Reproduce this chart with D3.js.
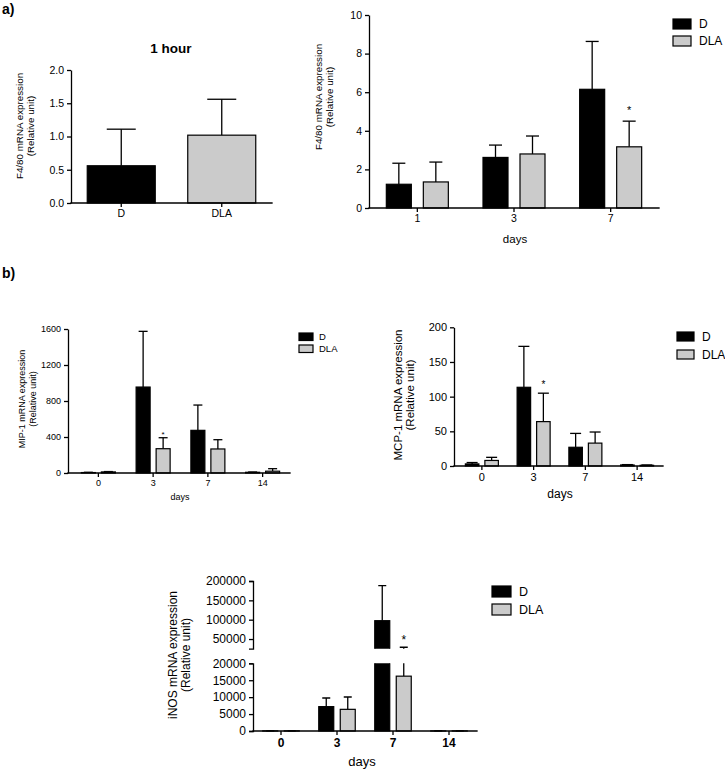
<!DOCTYPE html>
<html>
<head>
<meta charset="utf-8">
<script src="https://cdn.jsdelivr.net/npm/d3@7"></script>
<style>
body { margin: 0; background: #fff; }
</style>
</head>
<body>
<svg id="fig"></svg>
<script>
var W = 725, H = 770,
    FONT = '"Liberation Sans", Arial, sans-serif';

var seriesNames = ['D', 'DLA'];
var seriesFill = ['#000000', '#cbcbcb'];

// a) F4/80, 1 hour
var hourCats = ['D', 'DLA'];
var hourMean = [0.56, 1.02];
var hourErr = [0.55, 0.54];
var hourTicks = [0, 0.5, 1, 1.5, 2];

// a) F4/80 over days
var f480Days = ['1', '3', '7'];
var f480D = [1.23, 2.62, 6.15];
var f480DErr = [1.09, 0.64, 2.48];
var f480DLA = [1.35, 2.80, 3.17];
var f480DLAErr = [1.03, 0.93, 1.33];
var f480Sig = [0, 0, 1];
var f480Ticks = [0, 2, 4, 6, 8, 10];

// b) MIP-1
var mipDays = ['0', '3', '7', '14'];
var mipD = [5, 955, 474, 8];
var mipDErr = [3, 619, 281, 3];
var mipDLA = [12, 270, 267, 20];
var mipDLAErr = [4, 122, 103, 28];
var mipSig = [0, 1, 0, 0];
var mipTicks = [0, 400, 800, 1200, 1600];

// b) MCP-1
var mcpDays = ['0', '3', '7', '14'];
var mcpD = [3, 113.5, 27, 1.5];
var mcpDErr = [2, 59, 20, 0.5];
var mcpDLA = [8, 64, 33, 1];
var mcpDLAErr = [4.5, 41, 16, 0.5];
var mcpSig = [0, 1, 0, 0];
var mcpTicks = [0, 50, 100, 150, 200];

// b) iNOS (broken axis)
var inosDays = ['0', '3', '7', '14'];
var inosD = [30, 7200, 97400, 20];
var inosDErr = [20, 2550, 90600, 10];
var inosDLA = [40, 6400, 16200, 30];
var inosDLAErr = [20, 3640, 12500, 10];
var inosSig = [0, 0, 1, 0];
var inosLowTicks = [0, 5000, 10000, 15000, 20000];
var inosHighTicks = [50000, 100000, 150000, 200000];

var svg = d3.select('#fig')
    .attr('width', W)
    .attr('height', H)
    .attr('font-family', FONT);
var defs = svg.append('defs');

function groupRows(cats, means, errs, sig) {
    var rows = [];
    cats.forEach(function (c, i) {
        means.forEach(function (m, s) {
            rows.push({cat: c, s: s, off: s - 0.5, mean: m[i], err: errs[s][i], sig: s === 1 && sig[i]});
        });
    });
    return rows;
}

function styleAxis(sel, fs, bold) {
    sel.attr('font-size', fs).attr('font-family', FONT);
    sel.selectAll('path, line').attr('stroke', '#000').attr('stroke-width', 1.3);
    sel.selectAll('text').attr('fill', '#000').attr('font-weight', bold ? 'bold' : null);
}

function drawBars(g, rows, x, y, p) {
    var cx = function (r) { return x(r.cat) + x.bandwidth() / 2 + r.off * (p.barW + p.gap); };
    g.selectAll('line.err').data(rows).join('line')
        .attr('class', 'err')
        .attr('x1', cx).attr('x2', cx)
        .attr('y1', function (r) { return y(r.mean); })
        .attr('y2', function (r) { return y(r.mean + r.err); })
        .attr('stroke', '#000').attr('stroke-width', 1.3);
    g.selectAll('line.cap').data(rows).join('line')
        .attr('class', 'cap')
        .attr('x1', function (r) { return cx(r) - p.capW / 2; })
        .attr('x2', function (r) { return cx(r) + p.capW / 2; })
        .attr('y1', function (r) { return y(r.mean + r.err); })
        .attr('y2', function (r) { return y(r.mean + r.err); })
        .attr('stroke', '#000').attr('stroke-width', 1.3);
    g.selectAll('rect.bar').data(rows).join('rect')
        .attr('class', 'bar')
        .attr('x', function (r) { return cx(r) - p.barW / 2; })
        .attr('y', function (r) { return y(r.mean); })
        .attr('width', p.barW)
        .attr('height', function (r) { return y(0) - y(r.mean); })
        .attr('fill', function (r) { return seriesFill[r.s]; })
        .attr('stroke', '#000').attr('stroke-width', 1.2);
    return cx;
}

function drawStars(rows, cx, yOf, p) {
    svg.selectAll(null).data(rows.filter(function (r) { return r.sig; })).join('text')
        .attr('x', cx)
        .attr('y', function (r) { return yOf(r.mean + r.err) - p.starGap; })
        .attr('text-anchor', 'middle')
        .attr('font-size', p.starFont)
        .text('*');
}

function drawXAxis(x, p) {
    var ax = svg.append('g')
        .attr('transform', 'translate(0,' + p.baseY + ')')
        .call(d3.axisBottom(x).tickSize(4).tickSizeOuter(0))
        .call(styleAxis, p.tickFont, p.boldX);
    ax.select('.domain').remove();
    svg.append('line')
        .attr('x1', p.axisX).attr('x2', p.xRange[1])
        .attr('y1', p.baseY).attr('y2', p.baseY)
        .attr('stroke', '#000').attr('stroke-width', 1.3)
        .attr('stroke-linecap', 'square');
}

function drawYAxis(y, ticks, fmt, p, outer) {
    svg.append('g')
        .attr('transform', 'translate(' + p.axisX + ',0)')
        .call(d3.axisLeft(y).tickValues(ticks).tickFormat(fmt).tickSize(4).tickSizeOuter(outer || 0))
        .call(styleAxis, p.tickFont);
}

function yLabel(lines, xs, yc, fs) {
    lines.forEach(function (t, i) {
        svg.append('text')
            .attr('transform', 'translate(' + xs[i] + ',' + yc + ') rotate(-90)')
            .attr('text-anchor', 'middle')
            .attr('font-size', fs)
            .text(t);
    });
}

function xLabel(t, xc, yb, fs) {
    svg.append('text')
        .attr('x', xc).attr('y', yb)
        .attr('text-anchor', 'middle')
        .attr('font-size', fs)
        .text(t);
}

function legend(L) {
    var g = svg.append('g').attr('transform', 'translate(' + L.x + ',' + L.y + ')');
    seriesNames.forEach(function (n, i) {
        g.append('rect')
            .attr('x', 0).attr('y', i * L.step)
            .attr('width', L.w).attr('height', L.h)
            .attr('fill', seriesFill[i])
            .attr('stroke', '#000').attr('stroke-width', 1.2);
        g.append('text')
            .attr('x', L.tx).attr('y', i * L.step + L.h / 2 + L.fs * 0.36)
            .attr('font-size', L.fs)
            .text(n);
    });
}

function groupedPanel(p, cats, means, errs, sig, ticks, fmt) {
    var x = d3.scaleBand().domain(cats).range(p.xRange);
    var y = d3.scaleLinear().domain(p.yDomain).range(p.yRange);
    var rows = groupRows(cats, means, errs, sig);
    var cx = drawBars(svg.append('g'), rows, x, y, p);
    drawStars(rows, cx, y, p);
    drawXAxis(x, p);
    drawYAxis(y, ticks, fmt, p);
}

// panel labels
svg.append('text').attr('x', 2).attr('y', 14).attr('font-size', 14).attr('font-weight', 'bold').text('a)');
svg.append('text').attr('x', 2).attr('y', 278).attr('font-size', 14).attr('font-weight', 'bold').text('b)');

// ---- a) 1 hour
(function () {
    var p = {xRange: [71, 272], axisX: 71, baseY: 203, barW: 68, gap: 0, capW: 29, tickFont: 10.5};
    var x = d3.scaleBand().domain(hourCats).range(p.xRange);
    var y = d3.scaleLinear().domain([0, 2]).range([203, 70]);
    var rows = hourCats.map(function (c, i) {
        return {cat: c, s: i, off: 0, mean: hourMean[i], err: hourErr[i], sig: 0};
    });
    drawBars(svg.append('g'), rows, x, y, p);
    drawXAxis(x, p);
    drawYAxis(y, hourTicks, d3.format('.1f'), p);
    svg.append('text').attr('x', 171).attr('y', 53).attr('text-anchor', 'middle')
        .attr('font-size', 13.5).attr('font-weight', 'bold').text('1 hour');
    yLabel(['F4/80 mRNA expression', '(Relative unit)'], [22.5, 34], 126, 9.8);
})();

// ---- a) days
groupedPanel({xRange: [369, 659], axisX: 369, baseY: 208, yDomain: [0, 10], yRange: [208, 15],
        barW: 25, gap: 12, capW: 13, tickFont: 10.5, starFont: 11, starGap: 6.8},
    f480Days, [f480D, f480DLA], [f480DErr, f480DLAErr], f480Sig, f480Ticks, d3.format('d'));
yLabel(['F4/80 mRNA expression', '(Relative unit)'], [321.5, 332.5], 97, 9.8);
xLabel('days', 515, 243, 11.5);
legend({x: 673, y: 19, w: 18, h: 10, step: 17, tx: 26, fs: 12});

// ---- b) MIP-1
groupedPanel({xRange: [71, 290], axisX: 68, baseY: 473, yDomain: [0, 1600], yRange: [473, 329],
        barW: 14, gap: 6, capW: 9, tickFont: 9, starFont: 8, starGap: 1},
    mipDays, [mipD, mipDLA], [mipDErr, mipDLAErr], mipSig, mipTicks, d3.format('d'));
yLabel(['MIP-1 mRNA expression', '(Relative unit)'], [25, 35.5], 399, 9);
xLabel('days', 180, 500, 9);
legend({x: 299, y: 333, w: 14, h: 7.5, step: 12, tx: 20, fs: 9.5});

// ---- b) MCP-1
groupedPanel({xRange: [456, 663], axisX: 454, baseY: 466, yDomain: [0, 200], yRange: [466, 327.3],
        barW: 13.5, gap: 6, capW: 11, tickFont: 11, starFont: 10, starGap: 5.4},
    mcpDays, [mcpD, mcpDLA], [mcpDErr, mcpDLAErr], mcpSig, mcpTicks, d3.format('d'));
yLabel(['MCP-1 mRNA expression', '(Relative unit)'], [402, 414], 395, 11.5);
xLabel('days', 560, 498, 12);
legend({x: 677, y: 332, w: 17, h: 9, step: 18, tx: 25, fs: 12});

// ---- b) iNOS, broken y axis
(function () {
    var p = {xRange: [253, 477], axisX: 253, baseY: 731, barW: 15, gap: 6.5, capW: 8,
        tickFont: 12, boldX: true, starFont: 12, starGap: 3.7};
    var x = d3.scaleBand().domain(inosDays).range(p.xRange);
    var yLow = d3.scaleLinear().domain([0, 20000]).range([731, 663.3]);
    var yHigh = d3.scaleLinear().domain([25000, 200000]).range([648.7, 581]);
    var rows = groupRows(inosDays, [inosD, inosDLA], [inosDErr, inosDLAErr], inosSig);

    defs.append('clipPath').attr('id', 'clipLow').append('rect')
        .attr('x', 250).attr('y', 663.3).attr('width', 240).attr('height', 80);
    defs.append('clipPath').attr('id', 'clipHigh').append('rect')
        .attr('x', 250).attr('y', 570).attr('width', 240).attr('height', 78.7);

    var cx = drawBars(svg.append('g').attr('clip-path', 'url(#clipLow)'), rows, x, yLow, p);
    drawBars(svg.append('g').attr('clip-path', 'url(#clipHigh)'), rows, x, yHigh, p);
    drawStars(rows, cx, function (v) { return v <= 20000 ? yLow(v) : yHigh(v); }, p);

    drawXAxis(x, p);
    drawYAxis(yLow, inosLowTicks, d3.format('d'), p, 4);
    drawYAxis(yHigh, inosHighTicks, d3.format('d'), p, 4);
    yLabel(['iNOS mRNA expression', '(Relative unit)'], [177, 190], 655, 12);
    xLabel('days', 362, 766, 13);
    legend({x: 492, y: 586, w: 19, h: 11, step: 18, tx: 27, fs: 12.5});
})();
</script>
</body>
</html>
